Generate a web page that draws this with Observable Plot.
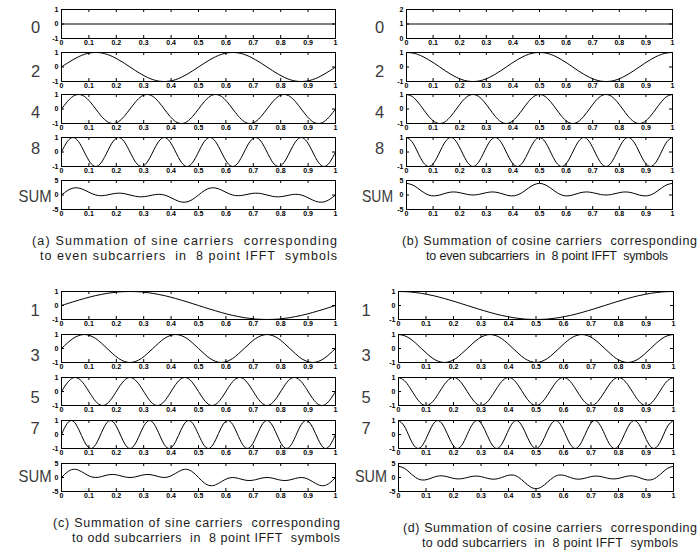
<!DOCTYPE html>
<html>
<head>
<meta charset="utf-8">
<script src="https://cdn.jsdelivr.net/npm/d3@7"></script>
<script src="https://cdn.jsdelivr.net/npm/@observablehq/plot@0.6"></script>
<style>
html,body{margin:0;padding:0;background:#fff;}
#chart{position:relative;width:697px;height:552px;overflow:hidden;background:#fff;}
#chart > svg{position:absolute;}
</style>
</head>
<body>
<div id="chart"></div>
<script>
// ---------------- data ----------------
const xTicks = [0,0.1,0.2,0.3,0.4,0.5,0.6,0.7,0.8,0.9,1];
const yTicksUnit = [-1,0,1];
const yTicksDC = [0,1,2];
const yTicksSum = [-5,0,5];

const tEnds = [0,1];
const t48 = [0,0.0208,0.0417,0.0625,0.0833,0.1042,0.125,0.1458,0.1667,0.1875,0.2083,0.2292,0.25,0.2708,0.2917,0.3125,0.3333,0.3542,0.375,0.3958,0.4167,0.4375,0.4583,0.4792,0.5,0.5208,0.5417,0.5625,0.5833,0.6042,0.625,0.6458,0.6667,0.6875,0.7083,0.7292,0.75,0.7708,0.7917,0.8125,0.8333,0.8542,0.875,0.8958,0.9167,0.9375,0.9583,0.9792,1];

const labelsEven = ["0","2","4","8","SUM"];
const labelsOdd = ["1","3","5","7","SUM"];

const captionA = ["(a) Summation of sine carriers  corresponding", "to even subcarriers  in  8 point IFFT  symbols"];
const captionB = ["(b) Summation of cosine carriers  corresponding", "to even subcarriers  in  8 point IFFT  symbols"];
const captionC = ["(c) Summation of sine carriers  corresponding", "to odd subcarriers  in  8 point IFFT  symbols"];
const captionD = ["(d) Summation of cosine carriers  corresponding", "to odd subcarriers  in  8 point IFFT  symbols"];

// (a) sine carriers, even subcarriers
const sinE0 = [0,0];
const sinE2 = [0,.26,.5,.71,.87,.97,1,.97,.87,.71,.5,.26,0,-.26,-.5,-.71,-.87,-.97,-1,-.97,-.87,-.71,-.5,-.26,
               0,.26,.5,.71,.87,.97,1,.97,.87,.71,.5,.26,0,-.26,-.5,-.71,-.87,-.97,-1,-.97,-.87,-.71,-.5,-.26,0];
const sinE4 = [0,.5,.87,1,.87,.5,0,-.5,-.87,-1,-.87,-.5, 0,.5,.87,1,.87,.5,0,-.5,-.87,-1,-.87,-.5,
               0,.5,.87,1,.87,.5,0,-.5,-.87,-1,-.87,-.5, 0,.5,.87,1,.87,.5,0,-.5,-.87,-1,-.87,-.5, 0];
const sinE6 = [0,.71,1,.71,0,-.71,-1,-.71, 0,.71,1,.71,0,-.71,-1,-.71, 0,.71,1,.71,0,-.71,-1,-.71,
               0,.71,1,.71,0,-.71,-1,-.71, 0,.71,1,.71,0,-.71,-1,-.71, 0,.71,1,.71,0,-.71,-1,-.71, 0];
const sumSinE = [0,1.47,2.37,2.41,1.73,0.76,0,-0.24,0,0.41,0.63,0.47,0,-0.47,-0.63,-0.41,0,0.24,0,-0.76,-1.73,-2.41,-2.37,-1.47,
                 0,1.47,2.37,2.41,1.73,0.76,0,-0.24,0,0.41,0.63,0.47,0,-0.47,-0.63,-0.41,0,0.24,0,-0.76,-1.73,-2.41,-2.37,-1.47,0];

// (b) cosine carriers, even subcarriers
const cosE0 = [1,1];
const cosE2 = [1,.97,.87,.71,.5,.26,0,-.26,-.5,-.71,-.87,-.97,-1,-.97,-.87,-.71,-.5,-.26,0,.26,.5,.71,.87,.97,
               1,.97,.87,.71,.5,.26,0,-.26,-.5,-.71,-.87,-.97,-1,-.97,-.87,-.71,-.5,-.26,0,.26,.5,.71,.87,.97,1];
const cosE4 = [1,.87,.5,0,-.5,-.87,-1,-.87,-.5,0,.5,.87, 1,.87,.5,0,-.5,-.87,-1,-.87,-.5,0,.5,.87,
               1,.87,.5,0,-.5,-.87,-1,-.87,-.5,0,.5,.87, 1,.87,.5,0,-.5,-.87,-1,-.87,-.5,0,.5,.87, 1];
const cosE6 = [1,.71,0,-.71,-1,-.71,0,.71, 1,.71,0,-.71,-1,-.71,0,.71, 1,.71,0,-.71,-1,-.71,0,.71,
               1,.71,0,-.71,-1,-.71,0,.71, 1,.71,0,-.71,-1,-.71,0,.71, 1,.71,0,-.71,-1,-.71,0,.71, 1];
const sumCosE = [4,3.54,2.37,1,0,-0.31,0,0.58,1,1,0.63,0.19,0,0.19,0.63,1,1,0.58,0,-0.31,0,1,2.37,3.54,
                 4,3.54,2.37,1,0,-0.31,0,0.58,1,1,0.63,0.19,0,0.19,0.63,1,1,0.58,0,-0.31,0,1,2.37,3.54,4];

// (c) sine carriers, odd subcarriers
const sinO1 = [0,.13,.26,.38,.5,.61,.71,.79,.87,.92,.97,.99,1,.99,.97,.92,.87,.79,.71,.61,.5,.38,.26,.13,
               0,-.13,-.26,-.38,-.5,-.61,-.71,-.79,-.87,-.92,-.97,-.99,-1,-.99,-.97,-.92,-.87,-.79,-.71,-.61,-.5,-.38,-.26,-.13,0];
const sinO3 = [0,.38,.71,.92,1,.92,.71,.38,0,-.38,-.71,-.92,-1,-.92,-.71,-.38,
               0,.38,.71,.92,1,.92,.71,.38,0,-.38,-.71,-.92,-1,-.92,-.71,-.38,
               0,.38,.71,.92,1,.92,.71,.38,0,-.38,-.71,-.92,-1,-.92,-.71,-.38, 0];
const sinO5 = [0,.61,.97,.92,.5,-.13,-.71,-.99,-.87,-.38,.26,.79,1,.79,.26,-.38,-.87,-.99,-.71,-.13,.5,.92,.97,.61,
               0,-.61,-.97,-.92,-.5,.13,.71,.99,.87,.38,-.26,-.79,-1,-.79,-.26,.38,.87,.99,.71,.13,-.5,-.92,-.97,-.61,0];
const sinO7 = [0,.79,.97,.38,-.5,-.99,-.71,.13,.87,.92,.26,-.61,-1,-.61,.26,.92,.87,.13,-.71,-.99,-.5,.38,.97,.79,
               0,-.79,-.97,-.38,.5,.99,.71,-.13,-.87,-.92,-.26,.61,1,.61,-.26,-.92,-.87,-.13,.71,.99,.5,-.38,-.97,-.79,0];
const sumSinO = [0,1.92,2.9,2.61,1.5,0.41,0,0.32,0.87,1.08,0.78,0.25,0,0.25,0.78,1.08,0.87,0.32,0,0.41,1.5,2.61,2.9,1.92,
                 0,-1.92,-2.9,-2.61,-1.5,-0.41,0,-0.32,-0.87,-1.08,-0.78,-0.25,0,-0.25,-0.78,-1.08,-0.87,-0.32,0,-0.41,-1.5,-2.61,-2.9,-1.92,0];

// (d) cosine carriers, odd subcarriers
const cosO1 = [1,.99,.97,.92,.87,.79,.71,.61,.5,.38,.26,.13,0,-.13,-.26,-.38,-.5,-.61,-.71,-.79,-.87,-.92,-.97,-.99,
               -1,-.99,-.97,-.92,-.87,-.79,-.71,-.61,-.5,-.38,-.26,-.13,0,.13,.26,.38,.5,.61,.71,.79,.87,.92,.97,.99,1];
const cosO3 = [1,.92,.71,.38,0,-.38,-.71,-.92,-1,-.92,-.71,-.38,0,.38,.71,.92,
               1,.92,.71,.38,0,-.38,-.71,-.92,-1,-.92,-.71,-.38,0,.38,.71,.92,
               1,.92,.71,.38,0,-.38,-.71,-.92,-1,-.92,-.71,-.38,0,.38,.71,.92, 1];
const cosO5 = [1,.79,.26,-.38,-.87,-.99,-.71,-.13,.5,.92,.97,.61,0,-.61,-.97,-.92,-.5,.13,.71,.99,.87,.38,-.26,-.79,
               -1,-.79,-.26,.38,.87,.99,.71,.13,-.5,-.92,-.97,-.61,0,.61,.97,.92,.5,-.13,-.71,-.99,-.87,-.38,.26,.79,1];
const cosO7 = [1,.61,-.26,-.92,-.87,-.13,.71,.99,.5,-.38,-.97,-.79,0,.79,.97,.38,-.5,-.99,-.71,.13,.87,.92,.26,-.61,
               -1,-.61,.26,.92,.87,.13,-.71,-.99,-.5,.38,.97,.79,0,-.79,-.97,-.38,.5,.99,.71,-.13,-.87,-.92,-.26,.61,1];
const sumCosO = [4,3.32,1.67,0,-0.87,-0.71,0,0.55,0.5,0,-0.45,-0.44,0,0.44,0.45,0,-0.5,-0.55,0,0.71,0.87,0,-1.67,-3.32,
                 -4,-3.32,-1.67,0,0.87,0.71,0,-0.55,-0.5,0,0.45,0.44,0,-0.44,-0.45,0,0.5,0.55,0,-0.71,-0.87,0,1.67,3.32,4];

// ---------------- layout ----------------
const FONT = "'Liberation Sans', Arial, Helvetica, sans-serif";
const chart = document.getElementById("chart");

function subplot(t, v, yDomain, yTicks, left, top, w, h) {
  const mL = 24, mR = 6, mT = 4, mB = 12;
  const data = t.map((x, i) => ({t: x, v: v[i]}));
  const svg = Plot.plot({
    width: w + mL + mR, height: h + mT + mB,
    marginLeft: mL, marginRight: mR, marginTop: mT, marginBottom: mB,
    x: {domain: [0, 1]},
    y: {domain: yDomain},
    style: {background: "transparent", fontFamily: FONT, fontSize: "7px", color: "#000", overflow: "visible"},
    marks: [
      Plot.line(data, {x: "t", y: "v", curve: "natural", stroke: "#000", strokeWidth: 1, clip: true}),
      Plot.frame({stroke: "#000", strokeWidth: 1}),
      Plot.tickX(xTicks, {x: d => d, insetBottom: h - 3, stroke: "#000"}),
      Plot.tickX(xTicks, {x: d => d, insetTop: h - 3, stroke: "#000"}),
      Plot.tickY(yTicks, {y: d => d, insetRight: w - 3, stroke: "#000"}),
      Plot.tickY(yTicks, {y: d => d, insetLeft: w - 3, stroke: "#000"}),
      Plot.axisX(xTicks, {tickSize: 0, tickPadding: 2, tickFormat: d => String(d), label: null, fontWeight: "bold", fill: "#000"}),
      Plot.axisY(yTicks, {anchor: "left", tickSize: 0, tickPadding: 3, tickFormat: d => String(d), label: null, fontWeight: "bold", fill: "#000"})
    ]
  });
  svg.style.left = (left - mL) + "px";
  svg.style.top = (top - mT) + "px";
  chart.appendChild(svg);
}

const topRows = [9, 52, 94, 137, 180];
const botRows = [291, 334, 377, 420, 463];

const panels = [
  {left: 61, w: 274, rows: topRows, h: 29,
   series: [[tEnds, sinE0, [-1,1], yTicksUnit], [t48, sinE2, [-1,1], yTicksUnit], [t48, sinE4, [-1,1], yTicksUnit], [t48, sinE6, [-1,1], yTicksUnit], [t48, sumSinE, [-5,5], yTicksSum]]},
  {left: 406, w: 266, rows: topRows, h: 29,
   series: [[tEnds, cosE0, [0,2], yTicksDC], [t48, cosE2, [-1,1], yTicksUnit], [t48, cosE4, [-1,1], yTicksUnit], [t48, cosE6, [-1,1], yTicksUnit], [t48, sumCosE, [-5,5], yTicksSum]]},
  {left: 61, w: 274, rows: botRows, h: 28,
   series: [[t48, sinO1, [-1,1], yTicksUnit], [t48, sinO3, [-1,1], yTicksUnit], [t48, sinO5, [-1,1], yTicksUnit], [t48, sinO7, [-1,1], yTicksUnit], [t48, sumSinO, [-5,5], yTicksSum]]},
  {left: 398, w: 275, rows: botRows, h: 28,
   series: [[t48, cosO1, [-1,1], yTicksUnit], [t48, cosO3, [-1,1], yTicksUnit], [t48, cosO5, [-1,1], yTicksUnit], [t48, cosO7, [-1,1], yTicksUnit], [t48, sumCosO, [-5,5], yTicksSum]]}
];

panels.forEach(p => p.series.forEach((s, i) => subplot(s[0], s[1], s[2], s[3], p.left, p.rows[i], p.w, p.h)));

// ---------------- text overlay: row labels & captions ----------------
const overlay = d3.create("svg")
  .attr("width", 697).attr("height", 552)
  .style("left", "0px").style("top", "0px").style("pointer-events", "none");

const labelSets = [
  {labels: labelsEven, cx: 35.5, sumX: 18.5, sumW: 33, baselines: [33, 76.5, 117.5, 154, 201.5]},
  {labels: labelsEven, cx: 379.5, sumX: 362, sumW: 31, baselines: [33, 76.5, 117.5, 154, 201.5]},
  {labels: labelsOdd, cx: 35, sumX: 18.5, sumW: 33, baselines: [316, 361, 403, 434, 481.5]},
  {labels: labelsOdd, cx: 366, sumX: 355, sumW: 32, baselines: [316, 361, 403, 434, 481.5]}
];
labelSets.forEach(s => s.labels.forEach((lab, i) => {
  const txt = overlay.append("text")
    .attr("y", s.baselines[i])
    .attr("font-family", FONT).attr("font-size", 16.5).attr("fill", "#3a3a3a")
    .text(lab);
  if (lab === "SUM") {
    txt.attr("x", s.sumX).attr("textLength", s.sumW).attr("lengthAdjust", "spacingAndGlyphs");
  } else {
    txt.attr("x", s.cx).attr("text-anchor", "middle");
  }
}));

const captionSpecs = [
  {lines: captionA, xs: [32, 40], widths: [305, 297], baselines: [245, 260]},
  {lines: captionB, xs: [402, 426], widths: [295, 242], baselines: [245, 260]},
  {lines: captionC, xs: [53, 72], widths: [287, 268], baselines: [527, 542]},
  {lines: captionD, xs: [403, 422], widths: [294, 256], baselines: [531.5, 547]}
];
captionSpecs.forEach(c => c.lines.forEach((line, i) => {
  overlay.append("text")
    .attr("x", c.xs[i]).attr("y", c.baselines[i])
    .attr("font-family", FONT).attr("font-size", 12.5).attr("fill", "#1a1a1a")
    .attr("textLength", c.widths[i]).attr("lengthAdjust", "spacing")
    .style("white-space", "pre")
    .text(line);
}));

chart.appendChild(overlay.node());
</script>
</body>
</html>
